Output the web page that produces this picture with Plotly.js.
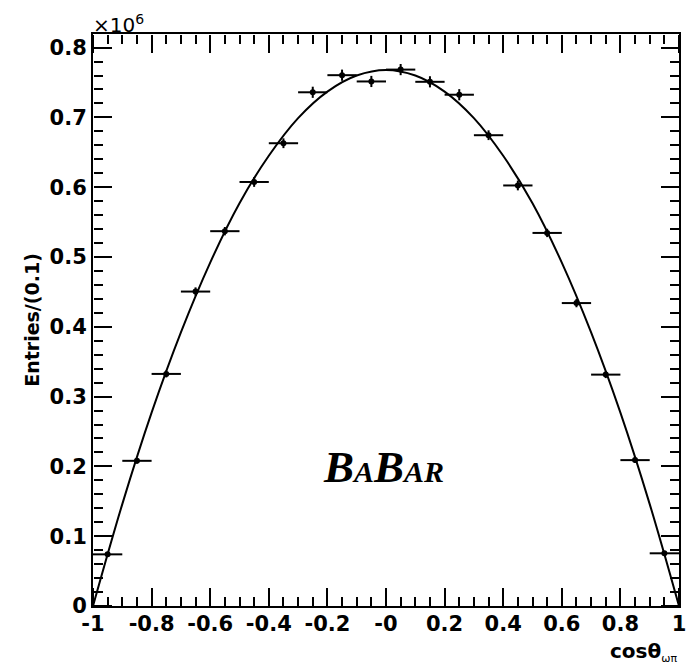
<!DOCTYPE html>
<html>
<head>
<meta charset="utf-8">
<script src="https://cdn.plot.ly/plotly-3.0.1.min.js"></script>
<style>
  html, body { margin: 0; padding: 0; background: #ffffff; }
  #chart { width: 695px; height: 667px; }
</style>
</head>
<body>
<div id="chart"></div>
<script>
// Histogram bins (cos theta_{omega pi}), entries in units of 10^6
var binCenters = [-0.95, -0.85, -0.75, -0.65, -0.55, -0.45, -0.35, -0.25, -0.15, -0.05,
                   0.05,  0.15,  0.25,  0.35,  0.45,  0.55,  0.65,  0.75,  0.85,  0.95];
var entries    = [0.0740, 0.2080, 0.3325, 0.4505, 0.5370, 0.6075, 0.6630, 0.7360, 0.7605, 0.7515,
                  0.7685, 0.7510, 0.7325, 0.6745, 0.6025, 0.5345, 0.4340, 0.3315, 0.2090, 0.0755];
var binHalfWidth = [0.05, 0.05, 0.05, 0.05, 0.05, 0.05, 0.05, 0.05, 0.05, 0.05,
                    0.05, 0.05, 0.05, 0.05, 0.05, 0.05, 0.05, 0.05, 0.05, 0.05];
var entryErrors = [0.003, 0.004, 0.005, 0.006, 0.006, 0.007, 0.007, 0.008, 0.008, 0.008,
                   0.008, 0.008, 0.008, 0.007, 0.007, 0.006, 0.006, 0.005, 0.004, 0.003];

// Fit curve
var fitX = [-1.0, -0.9, -0.8, -0.7, -0.6, -0.5, -0.4, -0.3, -0.2, -0.1, 0.0,
             0.1,  0.2,  0.3,  0.4,  0.5,  0.6,  0.7,  0.8,  0.9, 1.0];
var fitY = [0.000, 0.146, 0.277, 0.392, 0.492, 0.577, 0.645, 0.699, 0.737, 0.760, 0.768,
            0.760, 0.737, 0.699, 0.645, 0.577, 0.492, 0.392, 0.277, 0.146, 0.000];

// Tick labels
var xTickVals   = [-1, -0.8, -0.6, -0.4, -0.2, 0, 0.2, 0.4, 0.6, 0.8, 1];
var xTickLabels = ["-1", "-0.8", "-0.6", "-0.4", "-0.2", "-0", "0.2", "0.4", "0.6", "0.8", "1"];
var yTickVals   = [0, 0.1, 0.2, 0.3, 0.4, 0.5, 0.6, 0.7, 0.8];
var yTickLabels = ["0", "0.1", "0.2", "0.3", "0.4", "0.5", "0.6", "0.7", "0.8"];

var xRange = [-1, 1];
var yRange = [0, 0.8195];

var tickFont = {family: "DejaVu Sans", size: 21, color: "#000000", weight: "bold"};

var traces = [
  {
    type: "scatter", mode: "lines", x: fitX, y: fitY,
    line: {color: "#000000", width: 2, shape: "spline", smoothing: 1},
    hoverinfo: "skip", showlegend: false
  },
  {
    type: "scatter", mode: "markers", x: binCenters, y: entries,
    marker: {color: "#000000", size: 6, symbol: "circle"},
    error_x: {type: "data", array: binHalfWidth, visible: true, color: "#000000", thickness: 2, width: 0},
    error_y: {type: "data", array: entryErrors, visible: true, color: "#000000", thickness: 2, width: 0},
    showlegend: false
  },
  // empty traces that only register the tick-mark axes
  {type: "scatter", mode: "markers", x: [], y: [], xaxis: "x2", yaxis: "y2", hoverinfo: "skip", showlegend: false},
  {type: "scatter", mode: "markers", x: [], y: [], xaxis: "x3", yaxis: "y3", hoverinfo: "skip", showlegend: false}
];

// Axes that only draw tick marks pointing into the frame
function tickAxis(range, vals, dtick, tick0, side, overlay, pos) {
  return {
    overlaying: overlay, anchor: "free", position: pos, side: side,
    range: range, autorange: false, tickmode: "array", tickvals: vals,
    ticks: "outside", ticklen: 18, tickwidth: 1.5, tickcolor: "#000000",
    minor: {tickmode: "linear", dtick: dtick, tick0: tick0, ticks: "outside", ticklen: 9, tickwidth: 1.5, tickcolor: "#000000", showgrid: false},
    showticklabels: false, showline: false, showgrid: false, zeroline: false
  };
}

var layout = {
  width: 695, height: 667,
  margin: {l: 93, r: 16, t: 34, b: 61},
  paper_bgcolor: "#ffffff", plot_bgcolor: "#ffffff",
  showlegend: false,
  xaxis: {
    range: xRange, tickmode: "array", tickvals: xTickVals, ticktext: xTickLabels,
    ticks: "", showline: true, linecolor: "#000000", linewidth: 2, mirror: true,
    showgrid: false, zeroline: false, tickfont: tickFont, ticklabelstandoff: -2
  },
  yaxis: {
    range: yRange, tickmode: "array", tickvals: yTickVals, ticktext: yTickLabels,
    ticks: "", showline: true, linecolor: "#000000", linewidth: 2, mirror: true,
    showgrid: false, zeroline: false, tickfont: tickFont,
    title: {text: "Entries/(0.1)", font: {family: "DejaVu Sans", size: 19, color: "#000000", weight: "bold"}, standoff: 5}
  },
  xaxis2: tickAxis(xRange, xTickVals, 0.05, -1, "top", "x", 0),
  xaxis3: tickAxis(xRange, xTickVals, 0.05, -1, "bottom", "x", 1),
  yaxis2: tickAxis(yRange, yTickVals, 0.02, 0, "right", "y", 0),
  yaxis3: tickAxis(yRange, yTickVals, 0.02, 0, "left", "y", 1),
  annotations: [
    {
      xref: "paper", yref: "paper", x: 1, y: -0.055, xanchor: "right", yanchor: "top",
      text: "cosθ<sub><span style='font-size:11px;font-weight:normal'>ωπ</span></sub>", showarrow: false,
      font: {family: "DejaVu Sans", size: 20, color: "#000000", weight: "bold"}
    },
    {
      xref: "paper", yref: "paper", x: -0.003, y: 1.0, xanchor: "left", yanchor: "bottom", yshift: -5,
      text: "×10<sup>6</sup>", showarrow: false,
      font: {family: "DejaVu Sans", size: 20, color: "#000000"}
    },
    {
      xref: "x", yref: "y", x: -0.01, y: 0.199, xanchor: "center", yanchor: "middle",
      text: "<b><i>B<span style='font-size:30px'>A</span>B<span style='font-size:30px'>AR</span></i></b>",
      showarrow: false,
      font: {family: "Liberation Serif", size: 45, color: "#000000"}
    }
  ]
};

Plotly.newPlot("chart", traces, layout, {displayModeBar: false});
</script>
</body>
</html>
